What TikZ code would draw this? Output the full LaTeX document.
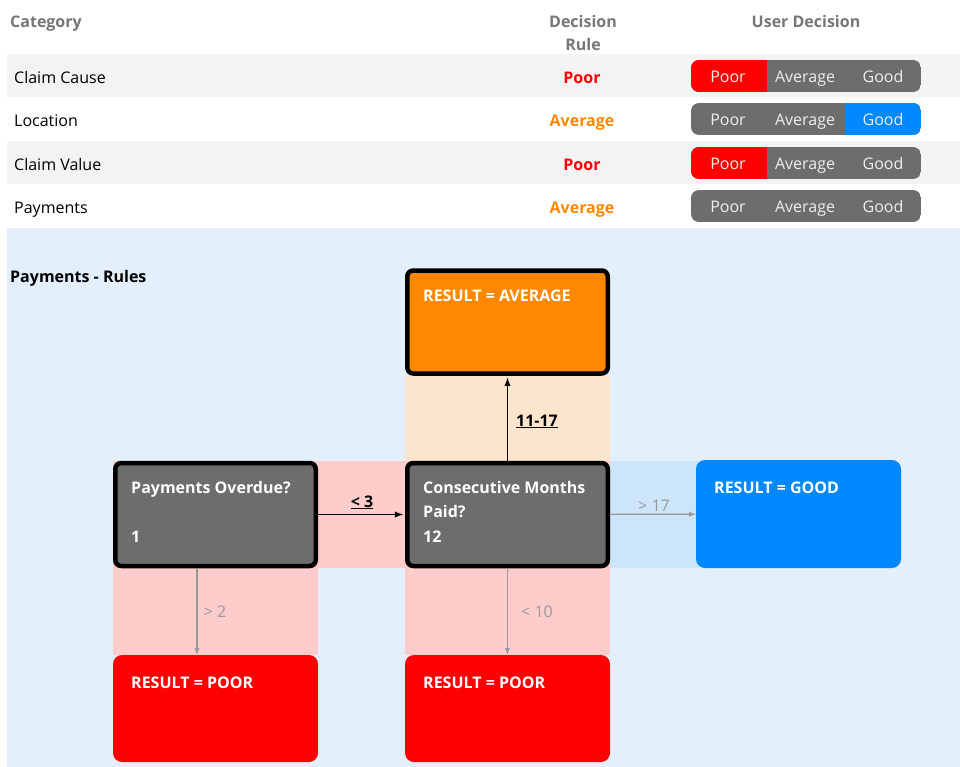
\documentclass[tikz,border=0pt]{standalone}
\usepackage{fontspec}
\setmainfont{Open Sans}
\usepackage{xcolor}
\usetikzlibrary{arrows,calc,positioning}
\definecolor{rowgray}{HTML}{F3F3F3}
\definecolor{bgblue}{HTML}{E3F0FC}
\definecolor{bandorange}{HTML}{FCE5CD}
\definecolor{bandpink}{HTML}{FFCCCC}
\definecolor{bandblue}{HTML}{CCE5FA}
\definecolor{boxgray}{HTML}{6D6D6D}
\definecolor{headgray}{HTML}{777777}
\definecolor{resred}{HTML}{FF0000}
\definecolor{resorange}{HTML}{FF8800}
\definecolor{resblue}{HTML}{0088FF}
\definecolor{softgray}{HTML}{999999}
\definecolor{segtextcol}{HTML}{EEEEEE}
\newcommand\rowfont{\fontsize{16pt}{19pt}\selectfont}
\tikzset{%
	cell/.style     = {inner sep=0pt, anchor=base west, font=\rowfont},
	head/.style     = {inner sep=0pt, anchor=base, font=\bfseries\rowfont, text=headgray},
	ruletext/.style = {inner sep=0pt, anchor=base, font=\bfseries\rowfont, text=#1},
	segtext/.style  = {inner sep=0pt, anchor=base, font=\rowfont, text=segtextcol},
	question/.style = {draw=black, line width=4.5pt, fill=#1, rounded corners=6pt, minimum width=200.5pt, minimum height=103pt, inner sep=0pt},
	outcome/.style  = {fill=#1, rounded corners=9pt, minimum width=205pt, minimum height=107pt, inner sep=0pt},
	boxtext/.style  = {inner sep=0pt, anchor=base west, font=\bfseries\rowfont, text=white},
	edgetext/.style = {inner sep=0pt, anchor=base, font=\bfseries\rowfont},
	softtext/.style = {inner sep=0pt, anchor=base, font=\rowfont, text=softgray},
	arrow/.style    = {line width=1.8pt, -latex, shorten >=2pt},
	softarrow/.style= {line width=1.3pt, softgray, -latex},
}
\begin{document}
\begin{tikzpicture}[x=1pt,y=-1pt]
		\useasboundingbox (0,0) rectangle (960,767);
		\fill[white] (0,0) rectangle (960,767);
		
		% table header
		\node[head, anchor=base west] (cathead) at (10,28) {Category};
		\node[head] (rulehead) at (583,28) {Decision};
		\node[head] (rulehead2) at (583,51) {Rule};
		\node[head] (userhead) at (806,28) {User Decision};
		
		% table rows
		\foreach \row/\ycen/\cat/\rul/\rulcol/\pick in {1/76/Claim Cause/Poor/resred/1, 2/119/Location/Average/resorange/3, 3/163/Claim Value/Poor/resred/1, 4/206/Payments/Average/resorange/0}{
			\ifodd\row \fill[rowgray] (7,\ycen-22) rectangle (960,\ycen+21); \fi
			\node[cell] (cat-\row) at (14,\ycen+7.5) {\cat};
			\node[ruletext=\rulcol] (rule-\row) at (582,\ycen+7.5) {\rul};
			\begin{scope}
				\clip[rounded corners=8pt] (691,\ycen-16) rectangle (921,\ycen+16);
				\fill[boxgray] (691,\ycen-16) rectangle (921,\ycen+16);
				\ifnum\pick=1 \fill[resred] (691,\ycen-16) rectangle (767,\ycen+16); \fi
				\ifnum\pick=3 \fill[resblue] (845,\ycen-16) rectangle (921,\ycen+16); \fi
			\end{scope}
			\node[segtext] (poor-\row) at (728,\ycen+7) {Poor};
			\node[segtext] (avg-\row) at (805,\ycen+7) {Average};
			\node[segtext] (good-\row) at (883,\ycen+7) {Good};
		}
		
		% rules panel
		\fill[bgblue] (7,228) rectangle (960,767);
		\node[inner sep=0pt, anchor=base west, font=\bfseries\rowfont] (ruletitle) at (10,282) {Payments - Rules};
		
		\fill[bandorange] (405,376) rectangle (610,461);
		\fill[bandpink] (113,461) rectangle (610,568);
		\fill[bandblue] (610,461) rectangle (700,568);
		\fill[bandpink] (113,568) rectangle (318,655);
		\fill[bandpink] (405,568) rectangle (610,655);
		
		\node[question=boxgray] (overdue) at (215.5,514.5) {};
		\node[question=boxgray] (months) at (507.5,514.5) {};
		\node[question=resorange] (average) at (507.5,322) {};
		\node[outcome=resblue, minimum height=108pt] (good) at (798.5,514) {};
		\node[outcome=resred] (poorA) at (215.5,708.5) {};
		\node[outcome=resred] (poorB) at (507.5,708.5) {};
		
		\node[boxtext] (overdue-q) at (131,493) {Payments Overdue?};
		\node[boxtext] (overdue-v) at (131,542) {1};
		\node[boxtext] (months-q) at (423,493) {Consecutive Months};
		\node[boxtext] (months-q2) at (423,517) {Paid?};
		\node[boxtext] (months-v) at (423,542) {12};
		\node[boxtext] (average-t) at (423,301) {RESULT = AVERAGE};
		\node[boxtext] (good-t) at (714,493) {RESULT = GOOD};
		\node[boxtext] (poorA-t) at (131,688) {RESULT = POOR};
		\node[boxtext] (poorB-t) at (423,688) {RESULT = POOR};
		
		% connectors
		\draw[arrow] (overdue) -- (months);
		\draw[arrow] (months) -- (average);
		\draw[softarrow] (months) -- (good);
		\draw[softarrow] ([xshift=-18.5pt]overdue.south) -- ([xshift=-18.5pt]poorA.north);
		\draw[softarrow] (months) -- (poorB);
		
		\node[edgetext] (lt3) at (362,507) {\underline{< 3}};
		\node[edgetext] (mid) at (537,426) {\underline{11-17}};
		\node[softtext] (gt17) at (654,511) {> 17};
		\node[softtext] (gt2) at (215,617) {> 2};
		\node[softtext] (lt10) at (537,617) {< 10};
		
		\end{tikzpicture}
\end{document}
